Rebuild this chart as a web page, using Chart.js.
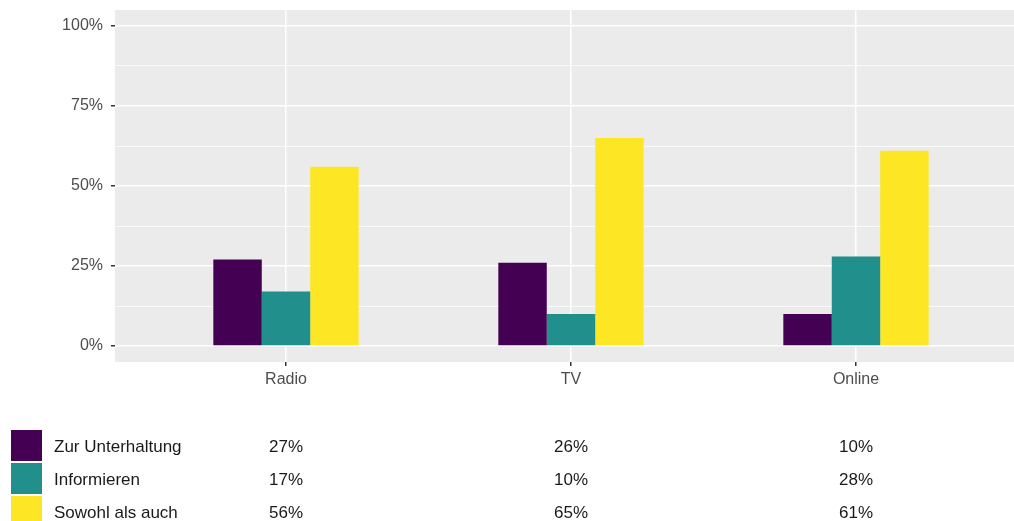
<!DOCTYPE html>
<html>
<head>
<meta charset="utf-8">
<script src="https://cdn.jsdelivr.net/npm/chart.js@4"></script>
<style>
  html, body { margin: 0; padding: 0; background: #fff; overflow: hidden; }
  canvas { display: block; }
</style>
</head>
<body>
<canvas id="mediaChart" width="1027" height="521"></canvas>
<script>
// data
const categories = ['Radio', 'TV', 'Online'];
const seriesNames = ['Zur Unterhaltung', 'Informieren', 'Sowohl als auch'];
const unterhaltung = [27, 26, 10];
const informieren = [17, 10, 28];
const beides = [56, 65, 61];
const yTickValues = [0, 25, 50, 75, 100];
const seriesColors = ['#440154', '#21908C', '#FDE725'];

const allSeries = [unterhaltung, informieren, beides];
const fontFamily = '"Liberation Sans", Arial, sans-serif';

// gray ggplot panel
const panelBackground = {
    id: 'panelBackground',
    beforeDraw(chart) {
        const { ctx, chartArea } = chart;
        ctx.save();
        ctx.fillStyle = '#EBEBEB';
        ctx.fillRect(chartArea.left, chartArea.top, chartArea.right - chartArea.left, chartArea.bottom - chartArea.top);
        ctx.restore();
    }
};

// value table under the plot
const valueTable = {
    id: 'valueTable',
    afterDraw(chart) {
        const ctx = chart.ctx;
        const xScale = chart.scales.x;
        ctx.save();
        ctx.font = '17px ' + fontFamily;
        ctx.textBaseline = 'middle';
        seriesNames.forEach((name, i) => {
            const top = 430 + i * 33;
            ctx.fillStyle = seriesColors[i];
            ctx.fillRect(11, top, 31, 31);
            ctx.fillStyle = '#1A1A1A';
            ctx.textAlign = 'left';
            ctx.fillText(name, 54, top + 17);
            ctx.textAlign = 'center';
            allSeries[i].forEach((v, j) => {
                ctx.fillText(v + '%', xScale.getPixelForValue(j + 1), top + 17);
            });
        });
        ctx.restore();
    }
};

const datasets = seriesNames.map((name, i) => ({
    label: name,
    data: allSeries[i].map((v, j) => ({ x: j + 1, y: v })),
    backgroundColor: seriesColors[i],
    borderWidth: 0,
    barPercentage: 1.0,
    categoryPercentage: 0.51
}));

const chartCtx = document.getElementById('mediaChart');
const mediaChart = new Chart(chartCtx, {
    type: 'bar',
    data: { datasets: datasets },
    plugins: [panelBackground, valueTable],
    options: {
        responsive: false,
        animation: false,
        devicePixelRatio: 1,
        layout: { padding: { top: 10, bottom: 129, left: 0, right: 0 } },
        plugins: {
            legend: { display: false },
            tooltip: { enabled: false }
        },
        scales: {
            x: {
                type: 'linear',
                min: 0.4,
                max: 3.6,
                offset: false,
                afterBuildTicks: (scale) => {
                    scale.ticks = categories.map((c, i) => ({ value: i + 1 }));
                },
                afterFit: (scale) => {
                    scale.height = 30;
                    scale.paddingLeft = 0;
                    scale.paddingRight = 0;
                },
                ticks: {
                    callback: (value) => categories[value - 1] || '',
                    color: '#4D4D4D',
                    font: { family: fontFamily, size: 16 },
                    padding: 4,
                    maxRotation: 0
                },
                grid: {
                    offset: false,
                    color: '#FFFFFF',
                    lineWidth: 1.5,
                    tickColor: '#333333',
                    tickLength: 4
                },
                border: { display: false }
            },
            y: {
                type: 'linear',
                min: -5,
                max: 105,
                afterBuildTicks: (scale) => {
                    const t = [];
                    for (let v = 0; v <= 100; v += 12.5) t.push({ value: v });
                    scale.ticks = t;
                },
                afterFit: (scale) => {
                    scale.width = 115;
                    scale.paddingTop = 0;
                    scale.paddingBottom = 0;
                },
                ticks: {
                    callback: (value) => yTickValues.includes(value) ? value + '%' : '',
                    color: '#4D4D4D',
                    font: { family: fontFamily, size: 16 },
                    padding: 8
                },
                grid: {
                    color: '#FFFFFF',
                    lineWidth: (c) => yTickValues.includes(c.tick.value) ? 1.5 : 0.75,
                    tickColor: (c) => yTickValues.includes(c.tick.value) ? '#333333' : 'rgba(0,0,0,0)',
                    tickLength: 4
                },
                border: { display: false }
            }
        }
    }
});
</script>
</body>
</html>
